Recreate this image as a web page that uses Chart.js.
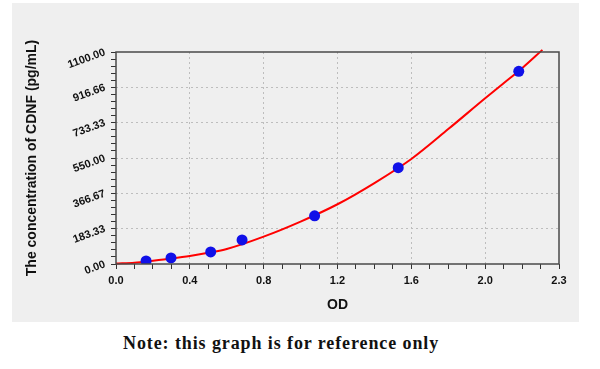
<!DOCTYPE html>
<html>
<head>
<meta charset="utf-8">
<script src="https://cdn.jsdelivr.net/npm/chart.js@4"></script>
<style>
  html, body { margin: 0; padding: 0; background: #fff; }
  body { width: 600px; height: 369px; position: relative; overflow: hidden; }
  #panel { position: absolute; left: 12px; top: 3px; width: 567px; height: 319px; background: #efefef; }
  #note {
    position: absolute; left: 123px; top: 333px; letter-spacing: 0.9px;
    font: bold 18px "Liberation Serif", "DejaVu Serif", serif; color: #111; white-space: nowrap;
  }
</style>
</head>
<body>
<div id="panel"><canvas id="chart"></canvas></div>
<div id="note">Note: this graph is for reference only</div>
<script>
// standards (OD vs concentration)
const pointOD = [0.163, 0.298, 0.513, 0.683, 1.076, 1.529, 2.182];
const pointConc = [15.63, 31.25, 62.5, 125, 250, 500, 1000];

// fitted curve
const curveOD = [0.0, 0.1, 0.2, 0.3, 0.4, 0.5, 0.6, 0.8, 1.0, 1.2, 1.4, 1.6, 1.8, 2.0, 2.1, 2.2, 2.31];
const curveConc = [2, 7, 17, 28, 41, 58, 78, 142, 220, 310, 420, 545, 700, 860, 938, 1016, 1111];

// axis ticks
const xTickValues = [0, 0.4, 0.8, 1.2, 1.6, 2.0, 2.4];
const xTickLabels = ['0.0', '0.4', '0.8', '1.2', '1.6', '2.0', '2.3'];
const yTickLabels = ['0.00', '183.33', '366.67', '550.00', '733.33', '916.66', '1100.00'];

const xMax = 2.4, yMax = 1100;

const isMajorX = (v) => xTickValues.some((t) => Math.abs(t - v) < 1e-6);
const majorXLabel = (v) => {
  const i = xTickValues.findIndex((t) => Math.abs(t - v) < 1e-6);
  return i >= 0 ? xTickLabels[i] : '';
};

const frame = {
  id: 'frame',
  afterDatasetsDraw(chart) {
    const { ctx, chartArea: a } = chart;
    ctx.save();
    ctx.strokeStyle = '#4a4a4a';
    ctx.lineWidth = 1.5;
    ctx.strokeRect(a.left, a.top, a.right - a.left, a.bottom - a.top);
    ctx.restore();
  },
};

const tickFont = { family: '"Liberation Sans", Arial, sans-serif', size: 11, weight: 'bold' };
const titleFont = { family: '"Liberation Sans", Arial, sans-serif', size: 14, weight: 'bold' };

new Chart(document.getElementById('chart'), {
  data: {
    datasets: [
      {
        type: 'scatter',
        data: pointOD.map((x, i) => ({ x, y: pointConc[i] })),
        backgroundColor: '#1010e8',
        borderWidth: 0,
        pointRadius: 5.5,
        order: 0,
      },
      {
        type: 'line',
        data: curveOD.map((x, i) => ({ x, y: curveConc[i] })),
        borderColor: '#ff0000',
        borderWidth: 2,
        pointRadius: 0,
        cubicInterpolationMode: 'monotone',
        clip: false,
        order: 1,
      },
    ],
  },
  options: {
    responsive: true,
    maintainAspectRatio: false,
    animation: false,
    events: [],
    layout: { padding: { left: 0, top: 49, right: 20, bottom: 0 } },
    plugins: { legend: { display: false }, tooltip: { enabled: false } },
    scales: {
      x: {
        type: 'linear',
        min: 0,
        max: xMax,
        afterFit: (s) => { s.height = 58; },
        afterBuildTicks: (s) => {
          s.ticks = [];
          for (let i = 0; i <= 24; i++) s.ticks.push({ value: i / 10 });
        },
        ticks: {
          autoSkip: false,
          maxRotation: 0,
          padding: 5,
          color: '#111',
          font: tickFont,
          callback: (v) => majorXLabel(v),
        },
        grid: {
          tickLength: 5,
          tickColor: '#333',
          color: (c) => (c.tick && isMajorX(c.tick.value) && c.tick.value > 0 && c.tick.value < xMax ? '#bdbdbd' : 'rgba(0,0,0,0)'),
        },
        border: { display: false, dash: [2, 3] },
        title: { display: true, text: 'OD', color: '#111', font: titleFont, padding: { top: 0, bottom: 8 } },
      },
      y: {
        type: 'linear',
        min: 0,
        max: yMax,
        afterFit: (s) => { s.width = 104; },
        afterBuildTicks: (s) => {
          s.ticks = [];
          for (let i = 0; i <= 30; i++) s.ticks.push({ value: (i * yMax) / 30 });
        },
        ticks: {
          autoSkip: false,
          minRotation: 20,
          padding: 6,
          color: '#111',
          font: tickFont,
          callback: (v, i) => (i % 5 === 0 ? yTickLabels[i / 5] : ''),
        },
        grid: {
          tickLength: 5,
          tickColor: '#333',
          color: (c) => (c.index % 5 === 0 && c.index > 0 && c.index < 30 ? '#bdbdbd' : 'rgba(0,0,0,0)'),
        },
        border: { display: false, dash: [2, 3] },
        title: {
          display: true,
          text: 'The concentration of CDNF (pg/mL)',
          color: '#111',
          font: titleFont,
          padding: { top: 12, bottom: 0 },
        },
      },
    },
  },
  plugins: [frame],
});
</script>
</body>
</html>
